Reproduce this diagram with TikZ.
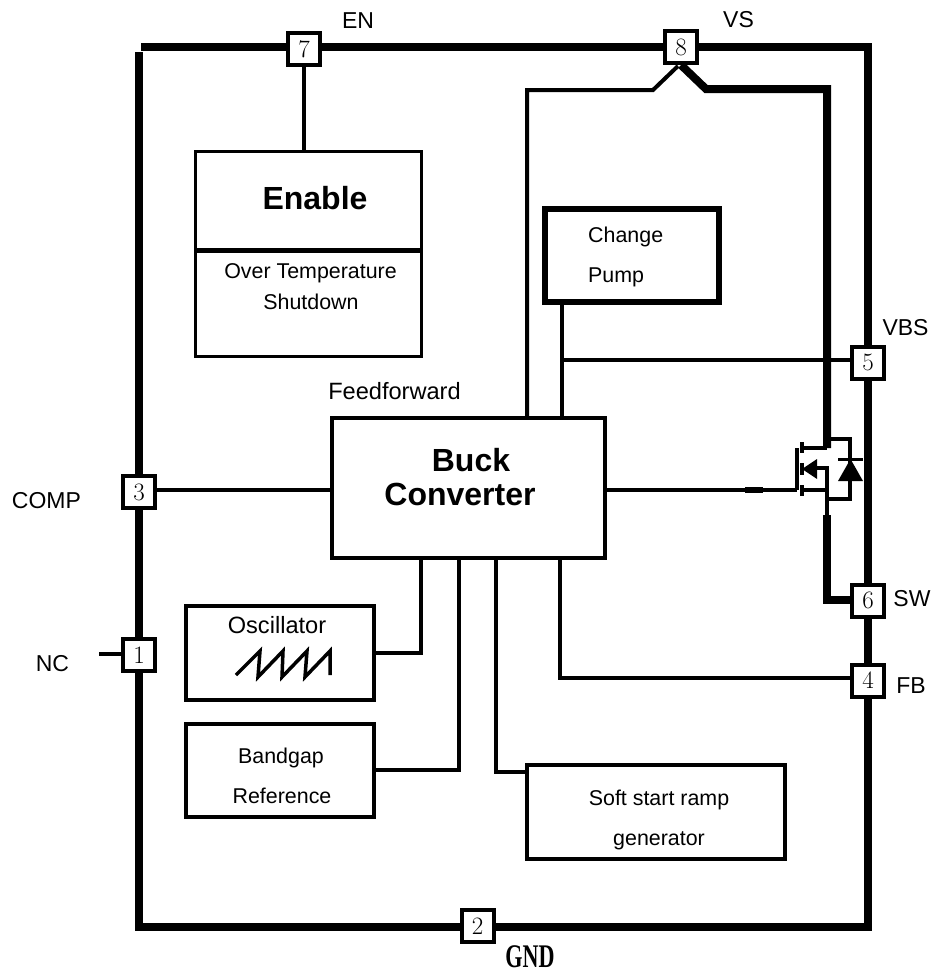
\documentclass[tikz,border=0pt]{standalone}
\usepackage{fontspec}
\setmainfont{Liberation Sans}
\newfontfamily\gndfont{Liberation Serif}
\usetikzlibrary{backgrounds}
\newcommand{\fs}[1]{\fontsize{#1}{#1}\selectfont}
\tikzset{
  x=1pt,y=-1pt,
  blockbox/.style={draw=black,fill=white,line width=4pt,inner sep=0pt,outer sep=0pt},
  pinbox/.style={draw=black,fill=white,line width=4pt,inner sep=0pt,outer sep=0pt,
    minimum width=32pt,minimum height=32pt,font=\rmfamily\fs{25}\fontspec{Latin Modern Roman}},
  wire/.style={draw=black,line width=4pt,line join=miter,line cap=butt},
  fatwire/.style={draw=black,line width=8pt,line join=miter,line cap=butt},
  lab/.style={anchor=base,inner sep=0pt,font=\fs{23}},
  txt/.style={anchor=base,inner sep=0pt,font=\fs{21.4}},
  boldtxt/.style={anchor=base,inner sep=0pt,font=\bfseries\fs{32}},
}
\begin{document}
\begin{tikzpicture}
\useasboundingbox (0,0) rectangle (934,974);

% blocks
\node[blockbox,line width=3pt,minimum width=226pt,minimum height=205pt] (enable) at (308.5,254) {};
\node[blockbox,line width=6pt,minimum width=174pt,minimum height=93pt] (pump) at (632,255.5) {};
\node[blockbox,minimum width=273pt,minimum height=140pt] (buck) at (468.5,488) {};
\node[blockbox,minimum width=188pt,minimum height=94pt] (osc) at (280,653) {};
\node[blockbox,minimum width=188pt,minimum height=93pt] (bandgap) at (280,770.5) {};
\node[blockbox,minimum width=258pt,minimum height=94pt] (soft) at (656,812) {};

% pins
\node[pinbox] (p7) at (304,49.5) {7};
\node[pinbox] (p8) at (681,47.5) {8};
\node[pinbox] (p5) at (868,362.5) {5};
\node[pinbox] (p6) at (868,600.5) {6};
\node[pinbox] (p4) at (868,680.5) {4};
\node[pinbox] (p3) at (139,492) {3};
\node[pinbox] (p1) at (139,655) {1};
\node[pinbox] (p2) at (477.5,926) {2};

% named free points
\coordinate (cTL) at (141,47);
\coordinate (cTR) at (868,47);
\coordinate (cBR) at (868,927);
\coordinate (cBL) at (139,927);
\coordinate (cLT) at (139,52);
\coordinate (nc) at (99,654);
\coordinate (drain) at (827,448);
\coordinate (srcmid) at (827,468);
\coordinate (srcend) at (827,515);
\coordinate (gate) at (797,490);

\begin{scope}[on background layer]
  \fill[white] (0,0) rectangle (934,974);
  % chip outline
  \draw[fatwire] (cTL) -- (cTR) -- (cBR) -- (cBL) -- (cLT);
  % connectors
  \draw[wire] (p7.south) -- (p7.south |- enable.north);
  \draw[wire] (p1.west |- nc) -- (nc);
  \draw[wire] (p3.east |- 0,490) -- (buck.west |- 0,490);
  \draw[wire] (buck.north -| 527,0) -- (527,90) -- (653,90) -- (678,66);
  \draw[fatwire] (681,65) -- (706,89) -- (827,89) -- (drain);
  \draw[wire] (pump.south -| 562,0) -- (buck.north -| 562,0);
  \draw[wire] (562,360) -- (p5.west |- 0,360);
  \draw[wire] (buck.east |- gate) -- (gate);
  \draw[line width=5.5pt] (745,490) -- (763,490);
  \draw[wire] (buck.south -| 421,0) -- (421,653) -- (osc.east |- 0,653);
  \draw[wire] (buck.south -| 458.5,0) -- (458.5,770) -- (bandgap.east |- 0,770);
  \draw[wire] (buck.south -| 496,0) -- (496,772) -- (soft.west |- 0,772);
  \draw[wire] (buck.south -| 559.5,0) -- (559.5,678) -- (p4.west |- 0,678);
  \draw[fatwire] (srcend) -- (827,600) -- (p6.west |- 0,600);
\end{scope}

% divider of the Enable block
\draw[line width=5pt] (enable.west |- 0,250) -- (enable.east |- 0,250);

% MOSFET and body diode
\draw[wire] (797,448) -- (gate);
\draw[wire] (802,442) -- (802,453);
\draw[wire] (802,463) -- (802,475);
\draw[wire] (802,485) -- (802,496);
\draw[wire] (802,448) -- (drain);
\draw[wire] (810,468) -- (srcmid) -- (srcend);
\draw[wire] (802,490) -- (827,490);
\fill (802,469) -- (817,459) -- (817,479) -- cycle;
\draw[wire] (827,439) -- (850,439) -- (850,499) -- (827,499);
\draw[line width=3pt] (838,459) -- (863,459);
\fill (850.5,459) -- (838,481) -- (863,481) -- cycle;

% sawtooth
\draw[line width=3.5pt,line join=miter,miter limit=10] (236,675) -- (260,651) -- (258,677) -- (283,651) -- (282,677) -- (307,651) -- (305,677) -- (330,651) -- (330,675);

% block texts
\node[boldtxt] (tenable) at (315,209) {Enable};
\node[txt] (tover) at (310.5,278) {Over Temperature};
\node[txt] (tshut) at (311,309) {Shutdown};
\node[txt,anchor=base west] (tchange) at (588,242) {Change};
\node[txt,anchor=base west] (tpumpx) at (588,282) {Pump};
\node[lab,font=\fs{23.6}] (tfeed) at (394.5,399) {Feedforward};
\node[boldtxt] (tbuck) at (471,471) {Buck};
\node[boldtxt] (tconv) at (460,505) {Converter};
\node[lab,font=\fs{23.6}] (tosc) at (277,633) {Oscillator};
\node[txt] (tband) at (281,763) {Bandgap};
\node[txt] (tref) at (282,803) {Reference};
\node[txt] (tsoft) at (659,805) {Soft start ramp};
\node[txt] (tgen) at (659,845) {generator};

% pin labels
\node[lab] (len) at (358,29) {EN};
\node[lab] (lvs) at (738.5,28) {VS};
\node[lab] (lvbs) at (905.5,335) {VBS};
\node[lab] (lsw) at (912,606) {SW};
\node[lab] (lfb) at (911,693) {FB};
\node[lab] (lcomp) at (46.5,508) {COMP};
\node[lab] (lnc) at (52.5,671) {NC};
\node[anchor=base,inner sep=0pt] (lgnd) at (530,967) {\scalebox{0.67}[1]{\gndfont\bfseries\fs{33}GND}};
\end{tikzpicture}
\end{document}
